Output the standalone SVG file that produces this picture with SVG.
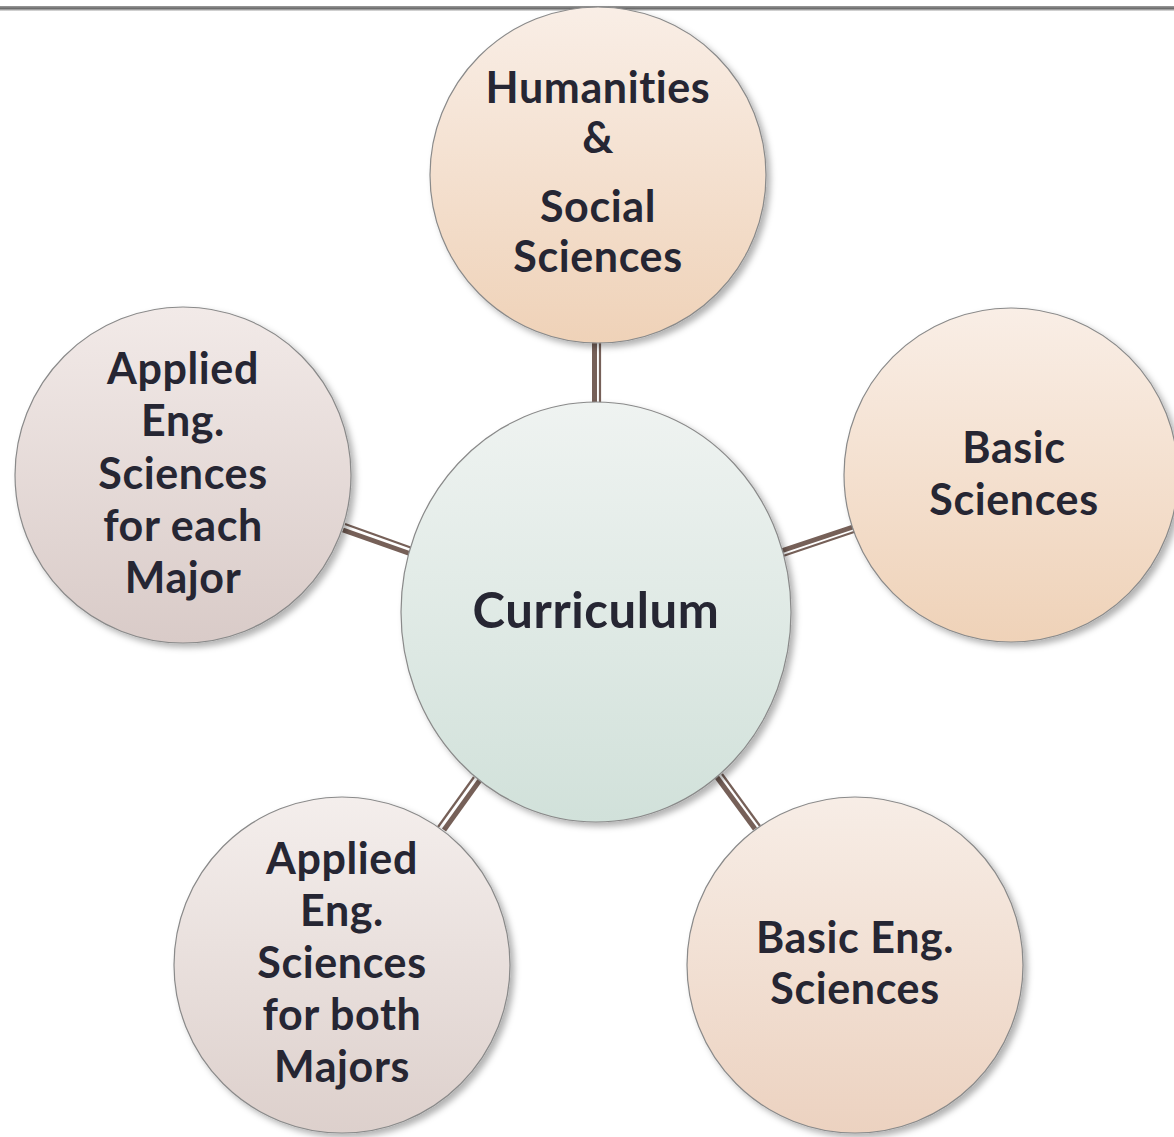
<svg xmlns="http://www.w3.org/2000/svg" width="1174" height="1137" viewBox="0 0 1174 1137">
<defs>
<linearGradient id="topline" x1="0" y1="0" x2="0" y2="1"><stop offset="0" stop-color="#9a9a9a"/><stop offset="0.5" stop-color="#6e6e6e"/><stop offset="1" stop-color="#e8e8e8"/></linearGradient>
<linearGradient id="gPeach" x1="0" y1="0" x2="0" y2="1"><stop offset="0" stop-color="#f9eee6"/><stop offset="1" stop-color="#efd2b8"/></linearGradient>
<linearGradient id="gPeach2" x1="0" y1="0" x2="0" y2="1"><stop offset="0" stop-color="#f7ede6"/><stop offset="1" stop-color="#ecd2c0"/></linearGradient>
<linearGradient id="gGray" x1="0" y1="0" x2="0" y2="1"><stop offset="0" stop-color="#f2eae8"/><stop offset="1" stop-color="#d9cbc8"/></linearGradient>
<linearGradient id="gGray2" x1="0" y1="0" x2="0" y2="1"><stop offset="0" stop-color="#f4eeec"/><stop offset="1" stop-color="#ddd0cc"/></linearGradient>
<linearGradient id="gMint" x1="0" y1="0" x2="0" y2="1"><stop offset="0" stop-color="#eff3f1"/><stop offset="1" stop-color="#d1e1da"/></linearGradient>
<filter id="sh" x="-10%" y="-10%" width="125%" height="125%"><feDropShadow dx="4" dy="4" stdDeviation="3" flood-color="#000" flood-opacity="0.3"/></filter>
</defs>
<style>
.node{stroke:#8a8a8a;stroke-width:1.2;filter:url(#sh)}
.t{font-family:Lato,"Open Sans","Liberation Sans",sans-serif;font-weight:bold;font-size:43px;letter-spacing:0.6px;font-variant-ligatures:none;fill:#262633;text-anchor:middle}
.thick{stroke:#766058;stroke-width:5;fill:none}
.thin{stroke:#766058;stroke-width:2.2;fill:none}
</style>
<rect x="0" y="6" width="1174" height="5" fill="url(#topline)"/>
<g id="connectors">
<line class="thick" x1="594.5" y1="340" x2="594.5" y2="406"/>
<line class="thin" x1="600" y1="340" x2="600" y2="406"/>
<line class="thick" x1="343" y1="530" x2="411" y2="554"/>
<line class="thin" x1="345" y1="524" x2="412" y2="548"/>
<line class="thick" x1="781" y1="551" x2="856" y2="526"/>
<line class="thin" x1="783" y1="556" x2="857" y2="531"/>
<line class="thick" x1="444" y1="830" x2="480" y2="780"/>
<line class="thin" x1="438" y1="827" x2="474" y2="777"/>
<line class="thick" x1="716" y1="776" x2="755" y2="829"/>
<line class="thin" x1="722" y1="774" x2="760" y2="826"/>
</g>
<g id="top"><circle class="node" cx="598" cy="175" r="168" fill="url(#gPeach)"/>
<text class="t" x="598" y="103">Humanities</text><text class="t" x="598" y="153">&amp;</text><text class="t" x="598" y="222">Social</text><text class="t" x="598" y="272">Sciences</text></g>
<g id="right"><circle class="node" cx="1011" cy="475" r="167" fill="url(#gPeach)"/>
<text class="t" x="1014" y="463">Basic</text><text class="t" x="1014" y="515">Sciences</text></g>
<g id="left"><circle class="node" cx="183" cy="475" r="168" fill="url(#gGray)"/>
<text class="t" x="183" y="384">Applied</text><text class="t" x="183" y="436">Eng.</text><text class="t" x="183" y="489">Sciences</text><text class="t" x="183" y="541">for each</text><text class="t" x="183" y="593">Major</text></g>
<g id="bottomleft"><circle class="node" cx="342" cy="965" r="168" fill="url(#gGray2)"/>
<text class="t" x="342" y="874">Applied</text><text class="t" x="342" y="926">Eng.</text><text class="t" x="342" y="978">Sciences</text><text class="t" x="342" y="1030">for both</text><text class="t" x="342" y="1082">Majors</text></g>
<g id="bottomright"><circle class="node" cx="855" cy="965" r="168" fill="url(#gPeach2)"/>
<text class="t" x="855" y="953">Basic Eng.</text><text class="t" x="855" y="1004">Sciences</text></g>
<g id="center"><ellipse class="node" cx="596" cy="612" rx="195" ry="210" fill="url(#gMint)"/>
<text class="t" x="596" y="628" style="font-size:49px">Curriculum</text></g>
</svg>
